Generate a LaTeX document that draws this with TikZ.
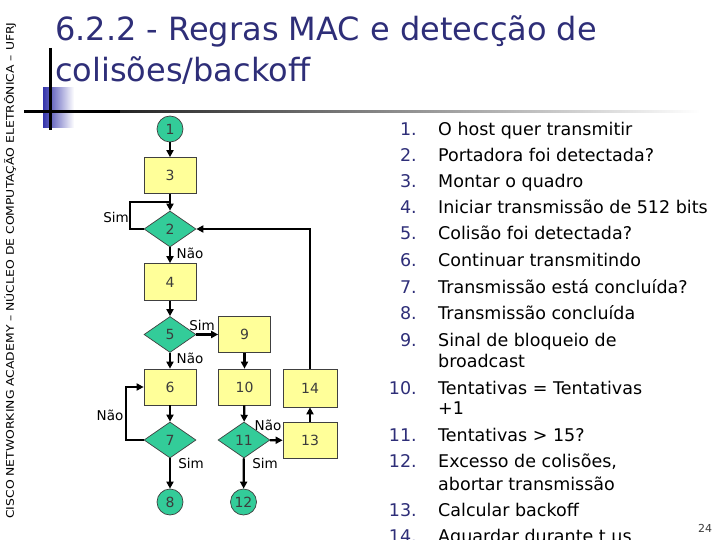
\documentclass[tikz,border=0pt]{standalone}
\usepackage{fontspec}
\usepackage{graphicx}
\setmainfont{DejaVu Sans}
\usetikzlibrary{shapes.geometric,arrows.meta}
\definecolor{navy}{RGB}{46,46,120}
\definecolor{flgreen}{RGB}{51,204,153}
\definecolor{flyellow}{RGB}{255,255,153}
\definecolor{numgray}{RGB}{60,60,60}
\definecolor{sqblue}{RGB}{51,51,170}
\begin{document}
\begin{tikzpicture}[x=1pt,y=-1pt,
  procbox/.style={draw=black!75, line width=0.7pt, fill=flyellow, minimum width=52pt, minimum height=36pt, inner sep=0pt, font=\fontsize{14}{14}\selectfont, text=numgray},
  decis/.style={diamond, draw=black!75, line width=0.7pt, fill=flgreen, minimum width=52pt, minimum height=36pt, inner sep=0pt, font=\fontsize{14}{14}\selectfont, text=numgray},
  term/.style={circle, draw=black!75, line width=0.7pt, fill=flgreen, minimum size=26pt, inner sep=0pt, font=\fontsize{14}{14}\selectfont, text=numgray},
  conn/.style={line width=2.2pt, -{Triangle[length=7pt,width=7pt]}},
  plain/.style={line width=2.2pt},
  lbl/.style={font=\fontsize{13.5}{13.5}\selectfont, inner sep=0pt},
  num/.style={anchor=base east, text=navy, font=\fontsize{17.5}{17.5}\selectfont, inner sep=0pt},
  item/.style={anchor=base west, text=black, font=\fontsize{17.5}{17.5}\selectfont, inner sep=0pt}
]
\useasboundingbox (0,0) rectangle (720,540);
% decorations
\shade[left color=sqblue, right color=white] (43,88) rectangle (74,128);
\shade[left color=black, right color=white] (24,110.5) rectangle (700,113);
\fill[black] (24,110.5) rectangle (120,113);
\draw[line width=3pt] (50,48) -- (50,130);
\node[rotate=90, anchor=west, inner sep=0pt, font=\fontsize{10.5}{10.5}\selectfont] (side) at (10,519) {\scalebox{1.18}[1]{CISCO NETWORKING ACADEMY -- NÚCLEO DE COMPUTAÇÃO ELETRÔNICA -- UFRJ}};
% title
\node[anchor=base west, inner sep=0pt, text=navy, font=\fontsize{32}{32}\selectfont] (t1) at (55,41) {6.2.2 - Regras MAC e detecção de};
\node[anchor=base west, inner sep=0pt, text=navy, font=\fontsize{32}{32}\selectfont] (t2) at (55,82) {colisões/backoff};
% flowchart
\node[term] (n1) at (170,129) {1};
\node[procbox] (n3) at (170,175.5) {3};
\node[decis] (n2) at (170,229) {2};
\node[procbox, minimum height=37pt] (n4) at (170,282) {4};
\node[decis] (n5) at (170,334.5) {5};
\node[procbox] (n9) at (244.5,334.5) {9};
\node[procbox] (n6) at (170,387) {6};
\node[procbox] (n10) at (244.5,387) {10};
\node[procbox, minimum width=54pt, minimum height=38pt] (n14) at (310,388) {14};
\node[decis] (n7) at (170,440) {7};
\node[decis] (n11) at (244,440) {11};
\node[procbox, minimum width=54pt] (n13) at (310,440.5) {13};
\node[term] (n8) at (170,502) {8};
\node[term] (n12) at (243.5,502) {12};
\coordinate (j2) at (170,202);
\coordinate (sl) at (130,202);
\coordinate (nl) at (126,440);
\draw[conn] (n1) -- (n3);
\draw[conn] (n3) -- (n2);
\draw[plain] (n2.west) -| (sl) -- (j2);
\draw[conn] (n2) -- (n4);
\draw[conn] (n14.north) |- (n2.east);
\draw[conn] (n4) -- (n5);
\draw[conn] (n5) -- (n9);
\draw[conn] (n5) -- (n6);
\draw[conn] (n9) -- (n10);
\draw[conn] (n10) -- (n11);
\draw[conn] (n6) -- (n7);
\draw[conn] (n7.west) -- (nl) |- (n6.west);
\draw[conn] (n7) -- (n8);
\draw[conn] (n11) -- (n12);
\draw[conn] (n11) -- (n13);
\draw[conn] (n13) -- (n14);
\node[lbl] (lsim2) at (116,217) {Sim};
\node[lbl] (lnao2) at (190,253) {Não};
\node[lbl] (lsim5) at (202,325) {Sim};
\node[lbl] (lnao5) at (190,358) {Não};
\node[lbl] (lnao7) at (110,415) {Não};
\node[lbl] (lsim7) at (191,463) {Sim};
\node[lbl] (lnao11) at (268,425) {Não};
\node[lbl] (lsim11) at (265,463) {Sim};
% list
\foreach \n/\y/\t in {1/136/{O host quer transmitir},2/162/{Portadora foi detectada?},3/188/{Montar o quadro},4/214/{Iniciar transmissão de 512 bits},5/240/{Colisão foi detectada?},6/266/{Continuar transmitindo},7/293/{Transmissão está concluída?},8/319/{Transmissão concluída},9/346/{Sinal de bloqueio de},10/394/{Tentativas = Tentativas},11/441/{Tentativas > 15?},12/467/{Excesso de colisões,},13/516/{Calcular backoff},14/542/{Aguardar durante t µs}}{
  \node[num] (num\n) at (417,\y) {\n.};
  \node[item] (it\n) at (438,\y) {\t};
}
\node[item] (it9b) at (438,367) {broadcast};
\node[item] (it10b) at (438,414) {+1};
\node[item] (it12b) at (438,490) {abortar transmissão};
\node[inner sep=0pt, text=numgray, font=\fontsize{11}{11}\selectfont] (pg) at (705,528) {24};
\end{tikzpicture}
\end{document}
